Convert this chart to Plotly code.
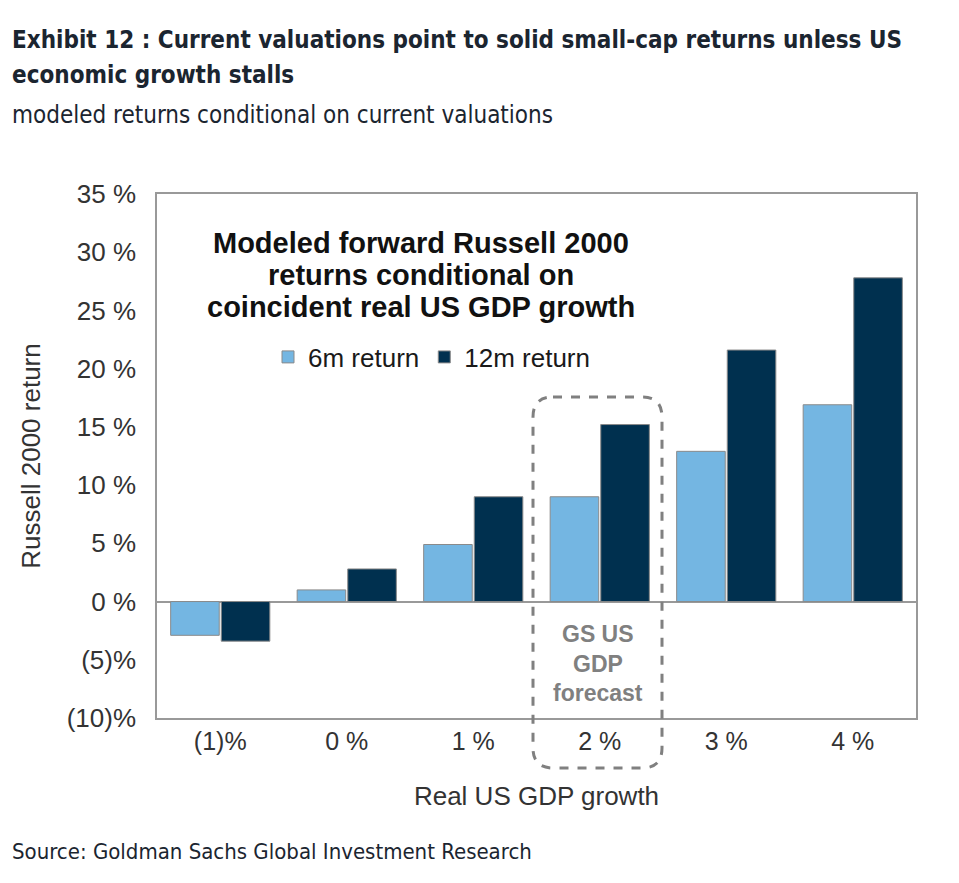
import plotly.graph_objects as go

categories = ["(1)%", "0 %", "1 %", "2 %", "3 %", "4 %"]
ret_6m = [-2.9, 1.0, 4.9, 9.0, 12.9, 16.9]
ret_12m = [-3.4, 2.8, 9.0, 15.2, 21.6, 27.8]
y_tickvals = [-10, -5, 0, 5, 10, 15, 20, 25, 30, 35]
y_ticktext = ["(10)%", "(5)%", "0 %", "5 %", "10 %", "15 %", "20 %", "25 %", "30 %", "35 %"]

LIGHT = "#74B6E2"
DARK = "#00304F"
AX_FONT = "Liberation Sans, Arial, sans-serif"
HEAD_FONT = "DejaVu Sans Condensed, Liberation Sans Narrow, sans-serif"

# page has an 8px body margin; work in screen (reference) pixel coordinates
OFF = 8
W, H = 959 - 2 * OFF, 883 - 2 * OFF
PL, PR, PT, PB = 157, 916, 194, 718  # plot area in screen pixels
L, R, T, B = PL - OFF, W - (PR - OFF), PT - OFF, H - (PB - OFF)
pw, ph = PR - PL, PB - PT


def px(x):
    return (x - PL) / pw


def py(y):
    return (PB - y) / ph


fig = go.Figure()
fig.add_trace(go.Bar(x=categories, y=ret_6m, name="6m return",
                     marker=dict(color=LIGHT, line=dict(color="#8a8a8a", width=1))))
fig.add_trace(go.Bar(x=categories, y=ret_12m, name="12m return",
                     marker=dict(color=DARK, line=dict(color="#8a8a8a", width=1))))

fig.update_layout(
    width=W, height=H,
    margin=dict(l=L, r=R, t=T, b=B),
    paper_bgcolor="white", plot_bgcolor="white",
    barmode="group", bargap=0.2, bargroupgap=0.04,
    showlegend=True,
    legend=dict(orientation="h", x=px(268), y=py(357), xanchor="left", yanchor="middle",
                font=dict(family=AX_FONT, size=26, color="#1a1a1a"),
                bgcolor="rgba(0,0,0,0)", itemwidth=30),
    font=dict(family=AX_FONT, color="#333333"),
)
fig.update_xaxes(showline=True, linecolor="#999999", linewidth=1.5, mirror=True,
                 ticks="", showgrid=False,
                 tickfont=dict(family=AX_FONT, size=25, color="#333333"),
                 title=dict(text="Real US GDP growth", standoff=33,
                            font=dict(family=AX_FONT, size=26, color="#333333")))
fig.update_yaxes(range=[-10, 35], tickvals=y_tickvals, ticktext=y_ticktext,
                 showline=True, linecolor="#999999", linewidth=1.5, mirror=True,
                 showgrid=False, zeroline=True, zerolinecolor="#999999", zerolinewidth=1.5,
                 ticks="", ticklabelstandoff=14,
                 tickfont=dict(family=AX_FONT, size=26, color="#333333"),
                 title=dict(text="Russell 2000 return", standoff=19,
                            font=dict(family=AX_FONT, size=26, color="#333333")))

# dashed rounded box around the 2% category
x0, x1 = px(533), px(662)
y0, y1 = py(768), py(397)
rx = 20 / pw
ry = 20 / ph
path = (f"M {x0+rx},{y1} L {x1-rx},{y1} Q {x1},{y1} {x1},{y1-ry} "
        f"L {x1},{y0+ry} Q {x1},{y0} {x1-rx},{y0} L {x0+rx},{y0} "
        f"Q {x0},{y0} {x0},{y0+ry} L {x0},{y1-ry} Q {x0},{y1} {x0+rx},{y1} Z")
fig.add_shape(type="path", path=path, xref="paper", yref="paper",
              line=dict(color="#808080", width=3, dash="dash"), layer="above")

for txt, yy in [("GS US", 634), ("GDP", 664), ("forecast", 693)]:
    fig.add_annotation(x=px(598), y=py(yy), xref="paper", yref="paper", yanchor="middle",
                       text=f"<b>{txt}</b>", showarrow=False,
                       font=dict(family=AX_FONT, size=23, color="#808080"))

for txt, yy in [("Modeled forward Russell 2000", 243),
                ("returns conditional on", 275),
                ("coincident real US GDP growth", 307)]:
    fig.add_annotation(x=px(421), y=py(yy), xref="paper", yref="paper", yanchor="middle",
                       text=f"<b>{txt}</b>", showarrow=False,
                       font=dict(family=AX_FONT, size=29, color="#111111"))

# header / footer texts
HEAD_COLOR = "#1b2530"
for txt, yy, size, bold in [
        ("Exhibit 12 : Current valuations point to solid small-cap returns unless US", 40, 24, True),
        ("economic growth stalls", 75, 24, True),
        ("modeled returns conditional on current valuations", 115, 24, False),
        ("Source: Goldman Sachs Global Investment Research", 851, 22, False)]:
    fig.add_annotation(x=px(10), y=py(yy), xref="paper", yref="paper",
                       xanchor="left", yanchor="middle", align="left",
                       text=f"<b>{txt}</b>" if bold else txt, showarrow=False,
                       font=dict(family=HEAD_FONT, size=size, color=HEAD_COLOR))

fig.write_html("out.html")
